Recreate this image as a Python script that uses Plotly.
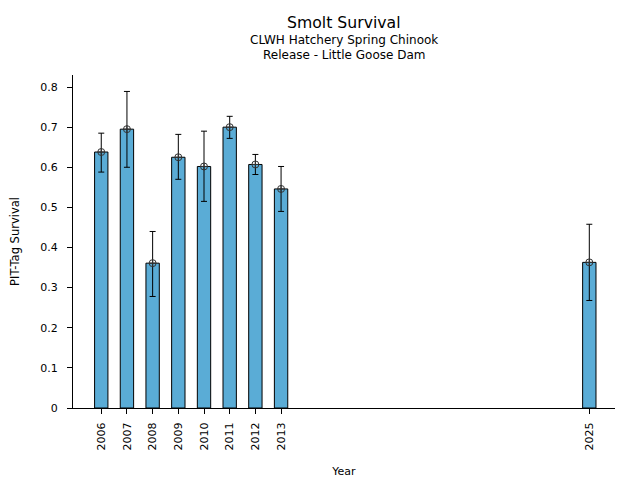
import plotly.graph_objects as go

years = [2006, 2007, 2008, 2009, 2010, 2011, 2012, 2013, 2025]
survival = [0.638, 0.695, 0.361, 0.625, 0.602, 0.700, 0.607, 0.546, 0.363]
upper = [0.685, 0.789, 0.440, 0.682, 0.690, 0.727, 0.632, 0.602, 0.458]
lower = [0.588, 0.600, 0.278, 0.570, 0.515, 0.672, 0.582, 0.490, 0.268]

err_plus = [u - s for u, s in zip(upper, survival)]
err_minus = [s - l for s, l in zip(survival, lower)]

font = "DejaVu Sans"

fig = go.Figure()
fig.add_trace(go.Bar(
    x=years, y=survival, width=0.52,
    marker=dict(color="#5aacd6", line=dict(color="black", width=1)),
    showlegend=False, hoverinfo="skip",
))
fig.add_trace(go.Scatter(
    x=years, y=survival, mode="markers",
    marker=dict(symbol="circle-cross-open", size=7, color="#333333", line=dict(width=1)),
    error_y=dict(type="data", array=err_plus, arrayminus=err_minus,
                 color="black", thickness=1, width=3),
    showlegend=False,
))

# page offset of 8px (body margin) compensated
OFF = 8
T, B, L, R = 75 - OFF, 80, 73 - OFF, 33
plot_h = 480 - T - B

def py(pix):
    return (480 - B - (pix - OFF)) / plot_h

fig.update_layout(
    width=640, height=480,
    margin=dict(l=L, r=R, t=T, b=B, autoexpand=False),
    paper_bgcolor="white", plot_bgcolor="white",
    font=dict(family=font, size=10.5, color="black"),
    annotations=[
        dict(text="Smolt Survival", x=0.5, xref="paper", y=py(23), yref="paper",
             showarrow=False, font=dict(size=15.7), yanchor="middle"),
        dict(text="CLWH Hatchery Spring Chinook", x=0.5, xref="paper", y=py(40), yref="paper",
             showarrow=False, font=dict(size=12), yanchor="middle"),
        dict(text="Release - Little Goose Dam", x=0.5, xref="paper", y=py(55), yref="paper",
             showarrow=False, font=dict(size=12), yanchor="middle"),
    ],
)

fig.update_xaxes(
    range=[2004.9, 2026.0], automargin=False,
    tickvals=years, ticktext=[str(y) for y in years], tickangle=-90,
    showline=True, linecolor="black", linewidth=1,
    ticks="outside", ticklen=5, tickcolor="black", ticklabelstandoff=4,
    showgrid=False, zeroline=False,
    title=dict(text="Year", font=dict(size=11), standoff=17),
    tickfont=dict(size=11),
)
fig.update_yaxes(
    range=[0, 0.83], automargin=False,
    tickvals=[0, 0.1, 0.2, 0.3, 0.4, 0.5, 0.6, 0.7, 0.8],
    ticktext=["0", "0.1", "0.2", "0.3", "0.4", "0.5", "0.6", "0.7", "0.8"],
    showline=True, linecolor="black", linewidth=1,
    ticks="outside", ticklen=5, tickcolor="black", ticklabelstandoff=7,
    showgrid=False, zeroline=False,
    title=dict(text="PIT-Tag Survival", font=dict(size=11.5), standoff=20),
    tickfont=dict(size=11),
)

fig.write_html("out.html")
